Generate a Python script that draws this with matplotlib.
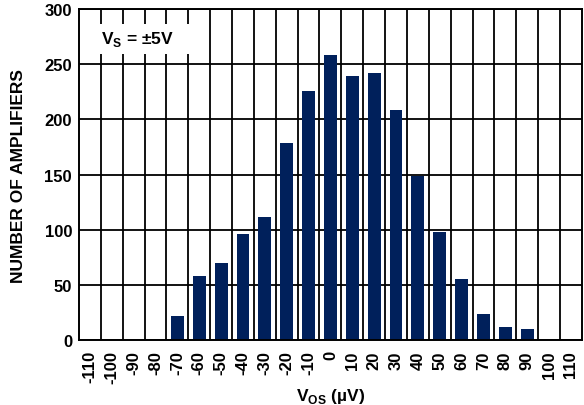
import matplotlib.pyplot as plt
from matplotlib.patches import Rectangle

plt.rcParams['font.family'] = ['Liberation Sans', 'DejaVu Sans']
plt.rcParams['font.weight'] = 'bold'
plt.rcParams['mathtext.fontset'] = 'custom'
plt.rcParams['mathtext.rm'] = 'Liberation Sans:bold'
plt.rcParams['mathtext.bf'] = 'Liberation Sans:bold'

# offset voltage bins (uV) and amplifier counts
vos_bins = [-70, -60, -50, -40, -30, -20, -10, 0, 10, 20, 30, 40, 50, 60, 70, 80, 90]
counts = [22, 58, 70, 96, 112, 179, 226, 258, 239, 242, 208, 149, 98, 56, 24, 12, 10]
tick_values = list(range(-110, 111, 10))
y_ticks = [0, 50, 100, 150, 200, 250, 300]

fig = plt.figure(figsize=(5.84, 4.06), dpi=100)
ax = fig.add_axes([0.1353, 0.159, 0.861, 0.817])

ax.bar(vos_bins, counts, width=5.9, color='#00205b', zorder=2)

ax.set_xlim(-115, 115)
ax.set_ylim(0, 300)
ax.set_xticks(tick_values)
ax.set_xticklabels([str(v) for v in tick_values], rotation=90, fontsize=12, fontweight='bold')
ax.set_xticks([v + 5 for v in tick_values[:-1]], minor=True)
ax.set_yticks(y_ticks)
ax.set_yticklabels([str(v) for v in y_ticks], fontsize=12, fontweight='bold')
ax.tick_params(which='both', length=0)
ax.tick_params(axis='x', pad=7)
ax.tick_params(axis='y', pad=5)

ax.set_axisbelow(True)
ax.grid(axis='x', which='minor', color='black', linewidth=1.3)
ax.grid(axis='y', which='major', color='black', linewidth=1.3)
for s in ax.spines.values():
    s.set_linewidth(1.4)

# white box behind the supply note
ax.add_patch(Rectangle((-114.5, 259), 51, 27, facecolor='white', edgecolor='none', zorder=1.5))
ax.text(-88.5, 273, r'V$_{\mathrm{S}}$ = ±5V', ha='center', va='center', fontsize=12.5,
        fontweight='bold', zorder=3)

ax.set_ylabel('NUMBER OF AMPLIFIERS', fontsize=12.5, fontweight='bold', labelpad=13)
ax.set_xlabel(r'V$_{\mathrm{OS}}$ (µV)', fontsize=12.5, fontweight='bold', labelpad=2)

fig.savefig('out.png', dpi=100)
